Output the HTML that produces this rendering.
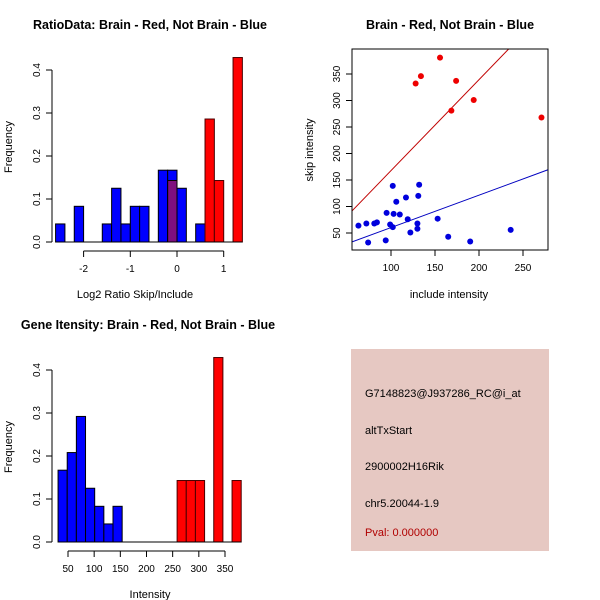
<!DOCTYPE html>
<html><head><meta charset="utf-8"><style>
body{margin:0;background:#fff;}
svg{display:block;font-family:"Liberation Sans",Arial,sans-serif;}
.t{font-size:12.5px;font-weight:bold;}
.l{font-size:10px;}
.k{font-size:11px;}
</style></head><body>
<svg id="c" width="600" height="600" viewBox="0 0 600 600">
<rect x="351" y="349" width="198" height="202" fill="#e6c8c2"/>
<text x="365" y="397" font-size="11">G7148823@J937286_RC@i_at</text>
<text x="365" y="434" font-size="11">altTxStart</text>
<text x="365" y="470" font-size="11">2900002H16Rik</text>
<text x="365" y="507" font-size="11">chr5.20044-1.9</text>
<text x="365" y="536" font-size="11" fill="#b00000">Pval: 0.000000</text>
</svg>
<script>
// Panel 1: ratio histogram (bins of 0.2 starting at -2.6)
const ratioBlueBins=[0,2,5,6,7,8,9,11,12,13,15];
const ratioBlueFreq=[0.042,0.083,0.042,0.125,0.042,0.083,0.083,0.167,0.167,0.125,0.042];
const ratioRedBins=[12,16,17,19];
const ratioRedFreq=[0.143,0.286,0.143,0.429];
const ratioXTicks=[-2,-1,0,1];
const freqTicks=[0,0.1,0.2,0.3,0.4];
// Panel 2: scatter
const redX=[155.7,134,128,174,194,168.6,271];
const redY=[381,346,332,337,301,281,268];
const blueX=[63,72,74,81,84,94,95,99,102,102,103,106,110,117,119,122,130,130,131,132,153,165,190,236];
const blueY=[64,68,32,68,70,36,88,66,61,139,86,109,85,117,76,51,68,58,120,141,77,43,34,56];
const redFit=[-3.9,1.716];
const blueFit=[-0.8,0.611];
const scatXTicks=[100,150,200,250];
const scatYTicks=[50,100,150,200,250,300,350];
// Panel 3: intensity histogram (bins of 17.5 starting at 31)
const intBlueBins=[0,1,2,3,4,5,6];
const intBlueFreq=[0.167,0.208,0.292,0.125,0.083,0.042,0.083];
const intRedBins=[13,14,15,17,19];
const intRedFreq=[0.143,0.143,0.143,0.429,0.143];
const intXTicks=[50,100,150,200,250,300,350];

const svg=document.getElementById('c');
const NS='http://www.w3.org/2000/svg';
function mk(tag,attrs,name,parent){const e=document.createElementNS(NS,tag);for(const k in attrs)e.setAttribute(k,attrs[k]);


(parent||svg).appendChild(e);return e;}
function txt(x,y,s,cls,name,rot,anchor){const e=mk('text',{x:x,y:y,'text-anchor':anchor||'middle',class:cls},name);e.textContent=s;if(rot)e.setAttribute('transform','rotate(-90 '+x+' '+y+')');return e;}
function yAxis(x,sy,ticks,name){mk('line',{x1:x,x2:x,y1:sy(ticks[0]),y2:sy(ticks[ticks.length-1]),stroke:'#000'},name+'-line');
ticks.forEach(t=>{mk('line',{x1:x-6,x2:x,y1:sy(t),y2:sy(t),stroke:'#000'},name+'-tick');
txt(x-12,sy(t),String(t===0?'0.0':t),'l',name+'-label',true);});}
function xAxis(y,sx,ticks,name){mk('line',{x1:sx(ticks[0]),x2:sx(ticks[ticks.length-1]),y1:y,y2:y,stroke:'#000'},name+'-line');
ticks.forEach(t=>{mk('line',{x1:sx(t),x2:sx(t),y1:y,y2:y+6,stroke:'#000'},name+'-tick');
txt(sx(t),y+21,String(t),'l',name+'-label');});}
function hist(sx,sy,start,w,bb,bf,rb,rf,name){
 bb.forEach((b,i)=>{const x0=sx(start+b*w),x1=sx(start+(b+1)*w);mk('rect',{x:x0,y:sy(bf[i]),width:x1-x0,height:sy(0)-sy(bf[i]),fill:'#0000ff',stroke:'#000','stroke-width':1},name+'-blue-bar');});
 rb.forEach((b,i)=>{const x0=sx(start+b*w),x1=sx(start+(b+1)*w);const ov=bb.indexOf(b)>=0;mk('rect',{x:x0,y:sy(rf[i]),width:x1-x0,height:sy(0)-sy(rf[i]),fill:ov?'#7f0f7f':'#ff0000',stroke:ov?'#000':'#4a0000','stroke-width':1},name+'-red-bar');});
 mk('line',{x1:sx(start),x2:sx(start+40*w),y1:sy(0),y2:sy(0),stroke:'#000'},name+'-baseline');}

// Panel 1
{const sx=v=>177+v*46.7, sy=v=>242-v*430;
 hist(sx,sy,-2.6,0.2,ratioBlueBins,ratioBlueFreq,ratioRedBins,ratioRedFreq,'ratio');
 svg.lastChild.setAttribute('x1',sx(-2.6));svg.lastChild.setAttribute('x2',sx(1.4));
 yAxis(52,sy,freqTicks,'ratio-y');xAxis(251,sx,ratioXTicks,'ratio-x');
 txt(150,29,'RatioData: Brain - Red, Not Brain - Blue','t','ratio-title');
 txt(135,298,'Log2 Ratio Skip/Include','k','ratio-x-title');
 txt(12,147,'Frequency','k','ratio-y-title',true);}
// Panel 2
{const sx=v=>391+(v-100)*0.88, sy=v=>233-(v-50)*0.53;
 const x0=352,x1=548,y0=49,y1=250;
 const cp=mk('clipPath',{id:'sc'},'scatter-clip');mk('rect',{x:x0,y:y0,width:x1-x0,height:y1-y0},'scatter-clip-rect',cp);
 const g=mk('g',{'clip-path':'url(#sc)'},'scatter-area');
 const xa=55.7,xb=278;
 mk('line',{x1:sx(xa),y1:sy(redFit[0]+redFit[1]*xa),x2:sx(xb),y2:sy(redFit[0]+redFit[1]*xb),stroke:'#c00000'},'red-fit-line',g);
 mk('line',{x1:sx(xa),y1:sy(blueFit[0]+blueFit[1]*xa),x2:sx(xb),y2:sy(blueFit[0]+blueFit[1]*xb),stroke:'#0000c0'},'blue-fit-line',g);
 redX.forEach((v,i)=>mk('circle',{cx:sx(v),cy:sy(redY[i]),r:3,fill:'#ee0000'},'red-point',g));
 blueX.forEach((v,i)=>mk('circle',{cx:sx(v),cy:sy(blueY[i]),r:3,fill:'#0000dd'},'blue-point',g));
 mk('rect',{x:x0,y:y0,width:x1-x0,height:y1-y0,fill:'none',stroke:'#000'},'scatter-frame');
 scatXTicks.forEach(t=>{mk('line',{x1:sx(t),x2:sx(t),y1:y1,y2:y1+6,stroke:'#000'},'scatter-x-tick');txt(sx(t),y1+21,String(t),'l','scatter-x-label');});
 scatYTicks.forEach(t=>{mk('line',{x1:x0-6,x2:x0,y1:sy(t),y2:sy(t),stroke:'#000'},'scatter-y-tick');txt(x0-12,sy(t),String(t),'l','scatter-y-label',true);});
 txt(450,29,'Brain - Red, Not Brain - Blue','t','scatter-title');
 txt(449,298,'include intensity','k','scatter-x-title');
 txt(313,150,'skip intensity','k','scatter-y-title',true);}
// Panel 3
{const sx=v=>68+(v-50)*0.5233, sy=v=>542-v*430;
 hist(sx,sy,31,17.5,intBlueBins,intBlueFreq,intRedBins,intRedFreq,'intensity');
 svg.lastChild.setAttribute('x1',sx(31));svg.lastChild.setAttribute('x2',sx(31+20*17.5));
 yAxis(52,sy,freqTicks,'intensity-y');xAxis(551,sx,intXTicks,'intensity-x');
 txt(148,329,'Gene Itensity: Brain - Red, Not Brain - Blue','t','intensity-title');
 txt(150,598,'Intensity','k','intensity-x-title');
 txt(12,447,'Frequency','k','intensity-y-title',true);}
</script>
</body></html>
